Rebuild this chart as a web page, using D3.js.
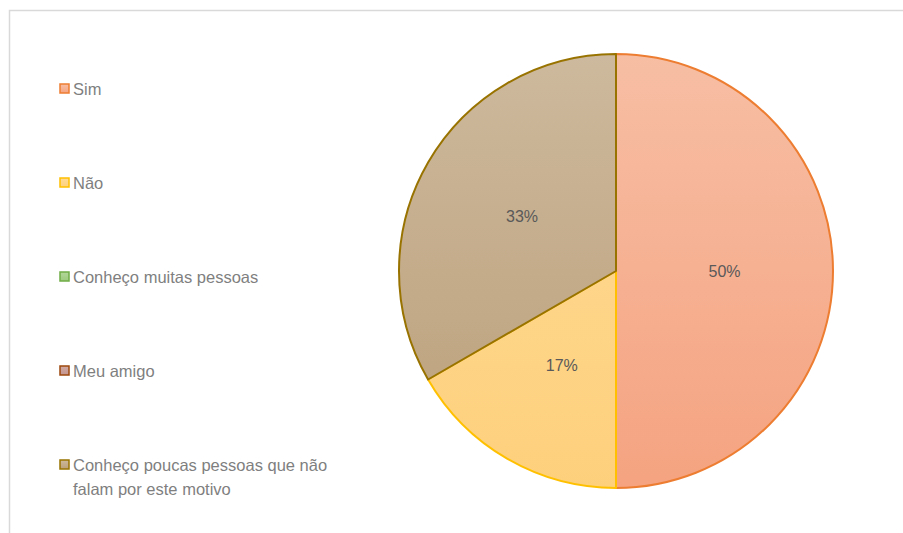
<!DOCTYPE html>
<html>
<head>
<meta charset="utf-8">
<script src="https://cdn.jsdelivr.net/npm/d3@7"></script>
<style>
  body { margin: 0; background: #fff; }
  svg { display: block; font-family: "Liberation Sans", Arial, sans-serif; }
</style>
</head>
<body>
<svg id="chart" width="903" height="533"></svg>
<script>
// dados
const categorias = ['Sim', 'Não', 'Conheço muitas pessoas', 'Meu amigo', 'Conheço poucas pessoas que não falam por este motivo'];
const valores = [3, 1, 0, 0, 2];
const rotulos = ['50%', '17%', '', '', '33%'];

const preenchTopo = ['#f7bea4', '#ffdb98', '#b3d69b', '#d2aaa4', '#cdb99d'];
const preenchBase = ['#f5a380', '#fdd07c', '#9ccb7e', '#c3948d', '#bb9f79'];
const contorno = ['#ed7d31', '#ffc000', '#70ad47', '#9e480e', '#997300'];

const svg = d3.select('#chart');

// moldura
svg.append('rect')
   .attr('x', 9.5).attr('y', 10.5)
   .attr('width', 1000).attr('height', 1000)
   .attr('fill', 'none').attr('stroke', '#d9d9d9').attr('stroke-width', 1.5);

const cx = 616, cy = 271, r = 217;

const defs = svg.append('defs');
categorias.forEach((c, i) => {
  // gradiente da fatia (coordenadas relativas ao centro)
  const g = defs.append('linearGradient')
                .attr('id', 'grad' + i)
                .attr('gradientUnits', 'userSpaceOnUse')
                .attr('x1', 0).attr('y1', -r).attr('x2', 0).attr('y2', r);
  g.append('stop').attr('offset', '0%').attr('stop-color', preenchTopo[i]);
  g.append('stop').attr('offset', '100%').attr('stop-color', preenchBase[i]);
  // gradiente da legenda
  const gl = defs.append('linearGradient')
                 .attr('id', 'gradL' + i)
                 .attr('x1', 0).attr('y1', 0).attr('x2', 0).attr('y2', 1);
  gl.append('stop').attr('offset', '0%').attr('stop-color', preenchTopo[i]);
  gl.append('stop').attr('offset', '100%').attr('stop-color', preenchBase[i]);
});

const pie = d3.pie().sort(null).value(d => d)(valores);
const arc = d3.arc().innerRadius(0).outerRadius(r);
const arcRot = d3.arc().innerRadius(r * 0.5).outerRadius(r * 0.5);

const g = svg.append('g').attr('transform', `translate(${cx},${cy})`);

g.selectAll('path').data(pie.filter(d => d.value > 0)).enter().append('path')
 .attr('d', arc)
 .attr('fill', d => `url(#grad${d.index})`)
 .attr('stroke', d => contorno[d.index])
 .attr('stroke-width', 2)
 .attr('stroke-linejoin', 'round');

g.selectAll('text.rot').data(pie.filter(d => d.value > 0)).enter().append('text')
 .attr('class', 'rot')
 .attr('transform', d => {
   const p = arcRot.centroid(d);
   return `translate(${p[0]},${p[1]})`;
 })
 .attr('text-anchor', 'middle').attr('dy', '0.35em')
 .attr('font-size', 16).attr('fill', '#595959')
 .text(d => rotulos[d.index]);

// legenda
const legY = d3.scalePoint().domain(categorias).range([89, 465]);
const leg = svg.selectAll('g.leg').data(categorias).enter().append('g')
               .attr('class', 'leg')
               .attr('transform', d => `translate(59,${legY(d)})`);

leg.append('rect')
   .attr('x', 1).attr('y', -5).attr('width', 9).attr('height', 9)
   .attr('fill', (d, i) => `url(#gradL${i})`)
   .attr('stroke', (d, i) => contorno[i]).attr('stroke-width', 1.5);

leg.append('text')
   .attr('font-size', 16.5).attr('fill', '#7f7f7f')
   .each(function(d){
     const linhas = d === categorias[4] ? ['Conheço poucas pessoas que não', 'falam por este motivo'] : [d];
     d3.select(this).selectAll('tspan').data(linhas).enter().append('tspan')
       .attr('x', 14).attr('dy', (l, j) => j === 0 ? '0.35em' : 24)
       .text(l => l);
   });
</script>
</body>
</html>
